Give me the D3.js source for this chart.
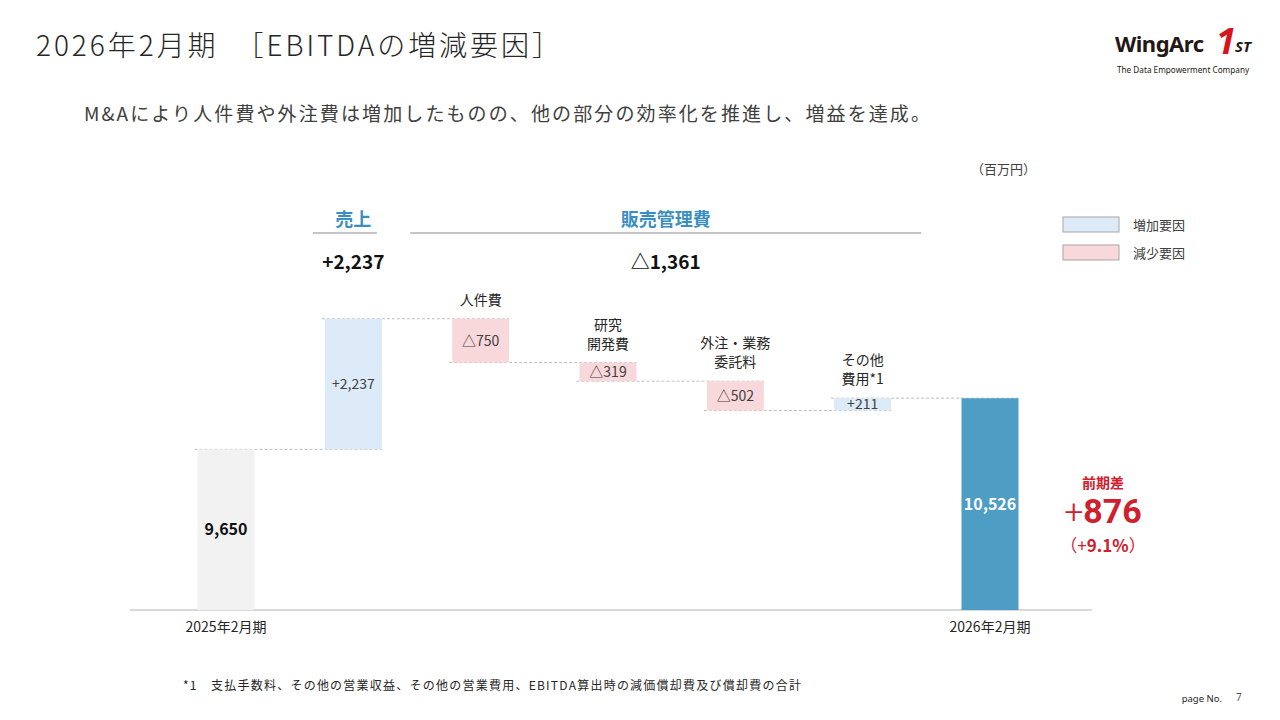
<!DOCTYPE html>
<html>
<head>
<meta charset="utf-8">
<script src="https://cdn.jsdelivr.net/npm/d3@7"></script>
<style>
  body { margin: 0; background: #fff; }
  svg { display: block; font-family: "Noto Sans CJK JP", "Noto Sans", sans-serif; }
</style>
</head>
<body>
<script>
// chart values
var categories = ["2025年2月期", "売上", "人件費", "研究開発費", "外注・業務委託料", "その他費用", "2026年2月期"];
var labelLines = [[], [], ["人件費"], ["研究", "開発費"], ["外注・業務", "委託料"], ["その他", "費用*1"], []];
var deltas = [9650, 2237, -750, -319, -502, 211, 10526];
var kinds = ["start", "inc", "dec", "dec", "dec", "inc", "end"];
var valueLabels = ["9,650", "+2,237", "△750", "△319", "△502", "+211", "10,526"];
var axisLabels = ["2025年2月期", "", "", "", "", "", "2026年2月期"];

var groupNames = ["売上", "販売管理費"];
var groupTotals = ["+2,237", "△1,361"];
var groupFrom = [1, 2];
var groupTo = [1, 5];

var legendNames = ["増加要因", "減少要因"];
var legendKinds = ["inc", "dec"];

var colors = {start: "#f2f2f2", inc: "#dcebf7", dec: "#f8d8da", end: "#4e9dc5"};

var width = 1280, height = 720;
var barW = 57;

var svg = d3.select("body").append("svg")
    .attr("width", width)
    .attr("height", height);

// running totals for the waterfall
var bars = [];
var run = 0;
deltas.forEach(function(d, i) {
  var b = {i: i, cat: categories[i], kind: kinds[i], label: valueLabels[i]};
  if (kinds[i] == "start" || kinds[i] == "end") {
    b.y0 = 6900; b.y1 = d; run = d;
  } else {
    b.y0 = run; run = run + d; b.y1 = run;
  }
  b.after = run;
  bars.push(b);
});

// scales (value axis starts above zero, as in the slide)
var x = d3.scalePoint()
    .domain(categories)
    .range([226, 990]);
var y = d3.scaleLinear()
    .domain([6900, 11900])
    .range([610, 318]);

// title, lead text, unit
svg.append("text")
    .attr("x", 36).attr("y", 56)
    .attr("font-size", 28).attr("font-weight", 300)
    .attr("fill", "#262626")
    .attr("textLength", 524).attr("lengthAdjust", "spacing")
    .text("2026年2月期　［EBITDAの増減要因］");

svg.append("text")
    .attr("x", 84).attr("y", 121)
    .attr("font-size", 19)
    .attr("fill", "#404040")
    .attr("textLength", 846).attr("lengthAdjust", "spacing")
    .text("M&Aにより人件費や外注費は増加したものの、他の部分の効率化を推進し、増益を達成。");

svg.append("text")
    .attr("x", 1036).attr("y", 174)
    .attr("text-anchor", "end")
    .attr("font-size", 13).attr("fill", "#404040")
    .text("（百万円）");

// logo
var logo = svg.append("g");
logo.append("text")
    .attr("x", 1115).attr("y", 52)
    .attr("font-family", "Noto Sans, sans-serif")
    .attr("font-size", 22).attr("font-weight", 700)
    .attr("fill", "#231815")
    .attr("letter-spacing", -0.5)
    .text("WingArc");
logo.append("text")
    .attr("x", 1216).attr("y", 54)
    .attr("font-family", "Noto Sans, sans-serif")
    .attr("font-size", 36).attr("font-weight", 700).attr("font-style", "italic")
    .attr("fill", "#d7141a")
    .text("1");
logo.append("text")
    .attr("x", 1235).attr("y", 52)
    .attr("font-family", "Noto Sans, sans-serif")
    .attr("font-size", 15).attr("font-weight", 700).attr("font-style", "italic")
    .attr("fill", "#231815")
    .text("ST");
logo.append("text")
    .attr("x", 1117).attr("y", 73)
    .attr("font-family", "Noto Sans, sans-serif")
    .attr("font-size", 8.2)
    .attr("fill", "#231815")
    .text("The Data Empowerment Company");

// baseline
svg.append("line")
    .attr("x1", 130).attr("x2", 1092)
    .attr("y1", y(6900)).attr("y2", y(6900))
    .attr("stroke", "#d9d9d9").attr("stroke-width", 2);

// dashed connectors between bars
for (var i = 0; i < bars.length - 1; i++) {
  var lv = y(bars[i].after);
  svg.append("line")
      .attr("x1", x(categories[i]) - barW / 2 - 3)
      .attr("x2", x(categories[i + 1]) + barW / 2)
      .attr("y1", lv).attr("y2", lv)
      .attr("stroke", "#bfbfbf")
      .attr("stroke-width", 1)
      .attr("stroke-dasharray", "3,2");
}

// bars
svg.selectAll(".bar")
    .data(bars)
    .enter().append("rect")
    .attr("class", "bar")
    .attr("x", function(d) { return x(d.cat) - barW / 2; })
    .attr("width", barW)
    .attr("y", function(d) { return y(Math.max(d.y0, d.y1)); })
    .attr("height", function(d) { return Math.abs(y(d.y0) - y(d.y1)); })
    .attr("fill", function(d) { return colors[d.kind]; });

// value labels inside bars
svg.selectAll(".val")
    .data(bars)
    .enter().append("text")
    .attr("class", "val")
    .attr("x", function(d) { return x(d.cat); })
    .attr("y", function(d) { return (y(d.y0) + y(d.y1)) / 2; })
    .attr("dy", "0.36em")
    .attr("text-anchor", "middle")
    .attr("font-size", function(d) { return (d.kind == "start" || d.kind == "end") ? 16 : 14; })
    .attr("font-weight", function(d) { return (d.kind == "start" || d.kind == "end") ? 700 : 400; })
    .attr("fill", function(d) {
      if (d.kind == "end") return "#fff";
      if (d.kind == "start") return "#111";
      return "#404040";
    })
    .text(function(d) { return d.label; });

// category labels above the cost bars
bars.forEach(function(d) {
  var lines = labelLines[d.i];
  if (!lines.length) return;
  var top = y(Math.max(d.y0, d.y1));
  var t = svg.append("text")
      .attr("text-anchor", "middle")
      .attr("font-size", 14)
      .attr("fill", "#262626");
  lines.forEach(function(s, k) {
    t.append("tspan")
        .attr("x", x(d.cat))
        .attr("y", top - 14 - (lines.length - 1 - k) * 19)
        .text(s);
  });
});

// x labels
svg.selectAll(".xlab")
    .data(bars.filter(function(d) { return axisLabels[d.i] != ""; }))
    .enter().append("text")
    .attr("class", "xlab")
    .attr("x", function(d) { return x(d.cat); })
    .attr("y", 632)
    .attr("text-anchor", "middle")
    .attr("font-size", 14)
    .attr("fill", "#262626")
    .text(function(d) { return axisLabels[d.i]; });

// group headers (売上 / 販売管理費)
var pads = [[12, -5], [42, 30]];
groupNames.forEach(function(g, k) {
  var x0 = x(categories[groupFrom[k]]) - barW / 2 - pads[k][0];
  var x1 = x(categories[groupTo[k]]) + barW / 2 + pads[k][1];
  var cx = groupFrom[k] == groupTo[k] ? x(categories[groupFrom[k]]) : (x0 + x1) / 2;
  svg.append("text")
      .attr("x", cx).attr("y", 226)
      .attr("text-anchor", "middle")
      .attr("font-size", 18).attr("font-weight", 700)
      .attr("fill", "#3a8fc1")
      .text(g);
  svg.append("line")
      .attr("x1", x0).attr("x2", x1)
      .attr("y1", 233).attr("y2", 233)
      .attr("stroke", "#8c8c8c").attr("stroke-width", 1);
  svg.append("text")
      .attr("x", cx).attr("y", 269)
      .attr("text-anchor", "middle")
      .attr("font-size", 19).attr("font-weight", 700)
      .attr("fill", "#111")
      .text(groupTotals[k]);
});

// legend
var legend = svg.selectAll(".legend")
    .data(legendNames)
    .enter().append("g")
    .attr("class", "legend")
    .attr("transform", function(d, i) { return "translate(1063," + (217 + i * 28) + ")"; });
legend.append("rect")
    .attr("width", 56).attr("height", 15)
    .attr("fill", function(d, i) { return colors[legendKinds[i]]; })
    .attr("stroke", "#a6a6a6").attr("stroke-width", 1);
legend.append("text")
    .attr("x", 70).attr("y", 8)
    .attr("dy", "0.36em")
    .attr("font-size", 13).attr("fill", "#404040")
    .text(function(d) { return d; });

// year-on-year difference
var diff = deltas[6] - deltas[0];
var ann = svg.append("g").attr("fill", "#d0202e").attr("text-anchor", "middle");
ann.append("text")
    .attr("x", 1103).attr("y", 488)
    .attr("font-size", 14).attr("font-weight", 700)
    .text("前期差");
var big = ann.append("text")
    .attr("x", 1103).attr("y", 523)
    .attr("font-family", "Roboto, sans-serif");
big.append("tspan").attr("font-size", 34).attr("font-weight", 300).text("+");
big.append("tspan").attr("font-size", 34).attr("font-weight", 700).text(d3.format(",")(diff));
var pct = ann.append("text")
    .attr("x", 1103).attr("y", 552)
    .attr("font-size", 17);
pct.append("tspan").text("（+");
pct.append("tspan").attr("font-weight", 700).text(d3.format(".1%")(diff / deltas[0]));
pct.append("tspan").text("）");

// footnote and page number
svg.append("text")
    .attr("x", 183).attr("y", 690)
    .attr("font-size", 12).attr("fill", "#262626")
    .attr("textLength", 618).attr("lengthAdjust", "spacing")
    .text("*1　支払手数料、その他の営業収益、その他の営業費用、EBITDA算出時の減価償却費及び償却費の合計");
svg.append("text")
    .attr("x", 1222).attr("y", 702)
    .attr("text-anchor", "end")
    .attr("font-family", "Noto Sans, sans-serif")
    .attr("font-size", 9.5).attr("fill", "#262626")
    .text("page No.");
svg.append("text")
    .attr("x", 1236).attr("y", 701)
    .attr("font-family", "Noto Sans, sans-serif")
    .attr("font-size", 10).attr("fill", "#595959")
    .text("7");
</script>
</body>
</html>
